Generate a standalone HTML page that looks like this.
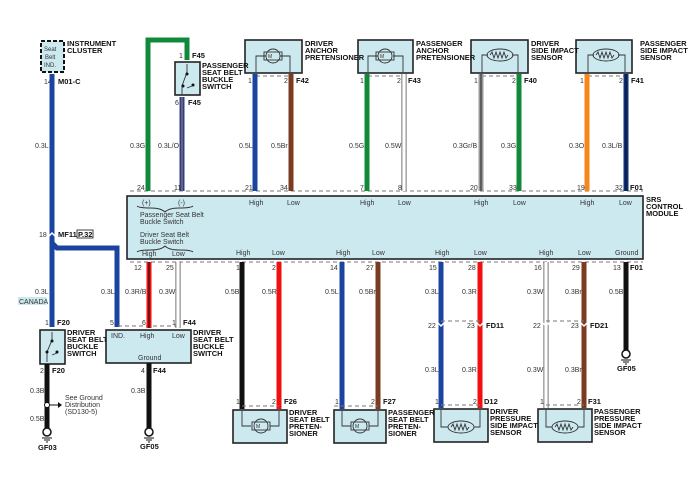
<!DOCTYPE html>
<html><head><meta charset="utf-8"><style>
html,body{margin:0;padding:0;background:#fff}
svg{display:block}
text{font-family:"Liberation Sans",sans-serif;font-size:7px;fill:#333}
.b{font-weight:bold;fill:#111;font-size:7.5px}
.box{fill:#cde9f0;stroke:#222;stroke-width:1.6}
.d{stroke:#777;stroke-width:1;stroke-dasharray:4 3;fill:none}
.ic{fill:none;stroke:#333;stroke-width:0.9}
</style></head><body>
<svg width="700" height="490" viewBox="0 0 700 490" xmlns="http://www.w3.org/2000/svg">
<!-- dashed connector lines -->
<line class="d" x1="130" y1="191" x2="643" y2="191"/>
<line class="d" x1="130" y1="262" x2="643" y2="262"/>
<!-- SRS module -->
<rect class="box" x="127" y="196" width="516" height="63"/>
<!-- top components -->
<rect class="box" x="245" y="40" width="57" height="33"/>
<rect class="box" x="358" y="40" width="55" height="33"/>
<rect class="box" x="471" y="40" width="57" height="33"/>
<rect class="box" x="576" y="40" width="56" height="33"/>
<line class="d" x1="256" y1="76" x2="290" y2="76"/>
<line class="d" x1="368" y1="76" x2="403" y2="76"/>
<line class="d" x1="482" y1="76" x2="518" y2="76"/>
<line class="d" x1="588" y1="76" x2="625" y2="76"/>
<!-- motors top -->
<g class="ic">
<path d="M256,72 V56 H266 M290,72 V56 H280"/><ellipse cx="273" cy="56" rx="7" ry="7"/><rect x="264" y="52" width="18" height="8"/>
<path d="M368,72 V56 H378 M403,72 V56 H393"/><ellipse cx="385" cy="56" rx="7" ry="7"/><rect x="376" y="52" width="18" height="8"/>
<path d="M482,72 V55 H488 M518,72 V55 H512"/><ellipse cx="500" cy="55" rx="13" ry="6"/><path d="M490,55 l2,-3 2,6 2,-6 2,6 2,-6 2,6 2,-6 2,6 2,-3"/>
<path d="M588,72 V55 H594 M625,72 V55 H618"/><ellipse cx="606" cy="55" rx="13" ry="6"/><path d="M596,55 l2,-3 2,6 2,-6 2,6 2,-6 2,6 2,-6 2,6 2,-3"/>
</g>
<text x="268" y="58" style="font-size:5px">M</text><text x="380" y="58" style="font-size:5px">M</text>
<!-- instrument cluster -->
<rect x="41" y="41" width="23" height="31" fill="#cde9f0" stroke="#111" stroke-width="2" stroke-dasharray="4 2"/>
<text x="44" y="51" style="font-size:6px">Seat</text><text x="45" y="59" style="font-size:6px">Belt</text><text x="44" y="67" style="font-size:6px">IND.</text>
<text class="b" x="67" y="46">INSTRUMENT</text><text class="b" x="67" y="53">CLUSTER</text>
<!-- passenger buckle switch -->
<rect class="box" x="175" y="62" width="25" height="33"/>
<path class="ic" d="M187,64 V72 L182,86 V94 M187,88 l5,-2" stroke-width="1"/>
<circle cx="187" cy="74" r="1.5" fill="#111"/><circle cx="183" cy="86" r="1.5" fill="#111"/><circle cx="193" cy="85" r="1.5" fill="#111"/>
<text class="b" x="202" y="68">PASSENGER</text><text class="b" x="202" y="75">SEAT BELT</text><text class="b" x="202" y="82">BUCKLE</text><text class="b" x="202" y="89">SWITCH</text>
<!-- top wires -->
<path d="M148,191 V40 H187 V60" fill="none" stroke="#108a3a" stroke-width="5"/>
<line x1="182" y1="97" x2="182" y2="191" stroke="#1a44a0" stroke-width="5"/><line x1="182" y1="97" x2="182" y2="191" stroke="#c8692a" stroke-width="1.2"/>
<line x1="255" y1="74" x2="255" y2="191" stroke="#1a44a0" stroke-width="5"/>
<line x1="291" y1="74" x2="291" y2="191" stroke="#7a3b20" stroke-width="5"/>
<line x1="367" y1="74" x2="367" y2="191" stroke="#108a3a" stroke-width="5"/>
<line x1="404" y1="74" x2="404" y2="191" stroke="#555" stroke-width="5"/><line x1="404" y1="74" x2="404" y2="191" stroke="#fff" stroke-width="3.4"/>
<line x1="481" y1="74" x2="481" y2="191" stroke="#999" stroke-width="5"/><line x1="481" y1="74" x2="481" y2="191" stroke="#222" stroke-width="1"/>
<line x1="519" y1="74" x2="519" y2="191" stroke="#108a3a" stroke-width="5"/>
<line x1="587" y1="74" x2="587" y2="191" stroke="#f7861b" stroke-width="5"/>
<line x1="626" y1="74" x2="626" y2="191" stroke="#0c2f80" stroke-width="5"/><line x1="626" y1="74" x2="626" y2="191" stroke="#111" stroke-width="1"/>
<!-- top labels -->
<text x="44" y="84">14</text><text class="b" x="58" y="84">M01-C</text>
<text x="179" y="58">1</text><text class="b" x="192" y="58">F45</text>
<text x="175" y="105">6</text><text class="b" x="188" y="105">F45</text>
<text x="248" y="83">1</text><text x="284" y="83">2</text><text class="b" x="296" y="83">F42</text>
<text x="360" y="83">1</text><text x="397" y="83">2</text><text class="b" x="408" y="83">F43</text>
<text x="474" y="83">1</text><text x="512" y="83">2</text><text class="b" x="524" y="83">F40</text>
<text x="580" y="83">1</text><text x="619" y="83">2</text><text class="b" x="631" y="83">F41</text>
<text class="b" x="305" y="46">DRIVER</text><text class="b" x="305" y="53">ANCHOR</text><text class="b" x="305" y="60">PRETENSIONER</text>
<text class="b" x="416" y="46">PASSENGER</text><text class="b" x="416" y="53">ANCHOR</text><text class="b" x="416" y="60">PRETENSIONER</text>
<text class="b" x="531" y="46">DRIVER</text><text class="b" x="531" y="53">SIDE IMPACT</text><text class="b" x="531" y="60">SENSOR</text>
<text class="b" x="640" y="46">PASSENGER</text><text class="b" x="640" y="53">SIDE IMPACT</text><text class="b" x="640" y="60">SENSOR</text>
<text x="35" y="148">0.3L</text><text x="130" y="148">0.3G</text><text x="158" y="148">0.3L/O</text>
<text x="239" y="148">0.5L</text><text x="271" y="148">0.5Br</text>
<text x="349" y="148">0.5G</text><text x="385" y="148">0.5W</text>
<text x="453" y="148">0.3Gr/B</text><text x="501" y="148">0.3G</text>
<text x="569" y="148">0.3O</text><text x="602" y="148">0.3L/B</text>
<text x="137" y="190">24</text><text x="174" y="190">11</text><text x="245" y="190">21</text><text x="280" y="190">34</text>
<text x="360" y="190">7</text><text x="398" y="190">8</text><text x="470" y="190">20</text><text x="509" y="190">33</text>
<text x="577" y="190">19</text><text x="615" y="190">32</text><text class="b" x="630" y="190">F01</text>
<!-- module text -->
<text x="142" y="205">(+)</text><text x="178" y="205">(-)</text>
<path class="ic" d="M137,206 q2,2 14,2 q10,0 14,4 q4,-4 14,-4 q12,0 14,-2"/>
<text x="140" y="217">Passenger Seat Belt</text><text x="140" y="224">Buckle Switch</text>
<text x="140" y="237">Driver Seat Belt</text><text x="140" y="244">Buckle Switch</text>
<path class="ic" d="M137,252 q2,-2 14,-2 q10,0 14,-4 q4,4 14,4 q12,0 14,2"/>
<text x="142" y="256">High</text><text x="172" y="256">Low</text>
<text x="249" y="205">High</text><text x="287" y="205">Low</text><text x="360" y="205">High</text><text x="398" y="205">Low</text>
<text x="474" y="205">High</text><text x="513" y="205">Low</text><text x="580" y="205">High</text><text x="619" y="205">Low</text>
<text x="236" y="255">High</text><text x="272" y="255">Low</text><text x="336" y="255">High</text><text x="372" y="255">Low</text>
<text x="435" y="255">High</text><text x="474" y="255">Low</text><text x="539" y="255">High</text><text x="578" y="255">Low</text><text x="615" y="255">Ground</text>
<text class="b" x="646" y="202">SRS</text><text class="b" x="646" y="209">CONTROL</text><text class="b" x="646" y="216">MODULE</text>
<!-- left blue -->
<path d="M52,74 V327" stroke="#1a44a0" stroke-width="5" fill="none"/>
<path d="M52,243 L57,248 H117 V327" stroke="#1a44a0" stroke-width="5" fill="none"/>
<path d="M47,238 l5,-5 5,5" stroke="#fff" stroke-width="1.5" fill="none"/>
<text x="39" y="237">18</text><text class="b" x="58" y="237">MF11</text>
<rect x="77" y="230" width="16" height="8" fill="#fff" stroke="#111" stroke-width="0.8"/><text class="b" x="78" y="237">P.32</text>
<text x="35" y="294">0.3L</text>
<rect x="18" y="297" width="29" height="8" fill="#cde9f0"/><text x="19" y="304">CANADA</text>
<text x="101" y="294">0.3L</text><text x="125" y="294">0.3R/B</text><text x="159" y="294">0.3W</text>
<!-- left switch -->
<rect class="box" x="40" y="330" width="25" height="34"/>
<path class="ic" d="M52,332 V340 L47,352 V362 M52,355 l5,-2"/>
<circle cx="52" cy="341" r="1.5" fill="#111"/><circle cx="47" cy="352" r="1.5" fill="#111"/><circle cx="57" cy="352" r="1.5" fill="#111"/>
<text x="45" y="325">1</text><text class="b" x="57" y="325">F20</text>
<text x="40" y="373">2</text><text class="b" x="52" y="373">F20</text>
<text class="b" x="67" y="335">DRIVER</text><text class="b" x="67" y="342">SEAT BELT</text><text class="b" x="67" y="349">BUCKLE</text><text class="b" x="67" y="356">SWITCH</text>
<line x1="47" y1="364" x2="47" y2="428" stroke="#111" stroke-width="5"/>
<circle cx="47" cy="405" r="2.5" fill="#fff" stroke="#111"/>
<path d="M50,405 H60" stroke="#111" stroke-width="1"/><path d="M58,402 l4,3 -4,3z" fill="#111"/>
<text x="65" y="400">See Ground</text><text x="65" y="407">Distribution</text><text x="65" y="414">(SD130-5)</text>
<text x="30" y="393">0.3B</text><text x="30" y="421">0.5B</text>
<circle cx="47" cy="432" r="4" fill="#fff" stroke="#111" stroke-width="1.5"/><path d="M42,438 h10 M44,440 h6 M46,442 h2" stroke="#111"/>
<text class="b" x="38" y="450">GF03</text>
<!-- right buckle switch -->
<line class="d" x1="118" y1="326" x2="178" y2="326"/>
<line x1="149" y1="262" x2="149" y2="328" stroke="#f01010" stroke-width="5"/><line x1="149" y1="262" x2="149" y2="328" stroke="#111" stroke-width="1"/>
<line x1="178" y1="262" x2="178" y2="328" stroke="#555" stroke-width="5"/><line x1="178" y1="262" x2="178" y2="328" stroke="#fff" stroke-width="3.4"/>
<rect class="box" x="106" y="330" width="85" height="33"/>
<text x="111" y="338">IND.</text><text x="140" y="338">High</text><text x="172" y="338">Low</text><text x="138" y="360">Ground</text>
<text x="110" y="325">5</text><text x="142" y="325">6</text><text x="172" y="325">1</text><text class="b" x="183" y="325">F44</text>
<text x="134" y="270">12</text><text x="166" y="270">25</text>
<text class="b" x="193" y="335">DRIVER</text><text class="b" x="193" y="342">SEAT BELT</text><text class="b" x="193" y="349">BUCKLE</text><text class="b" x="193" y="356">SWITCH</text>
<line x1="149" y1="363" x2="149" y2="428" stroke="#111" stroke-width="5"/>
<text x="141" y="373">4</text><text class="b" x="153" y="373">F44</text><text x="131" y="393">0.3B</text>
<circle cx="149" cy="432" r="4" fill="#fff" stroke="#111" stroke-width="1.5"/><path d="M144,438 h10 M146,440 h6 M148,442 h2" stroke="#111"/>
<text class="b" x="140" y="449">GF05</text>
<!-- bottom wires -->
<line x1="242" y1="262" x2="242" y2="409" stroke="#111" stroke-width="5"/>
<line x1="279" y1="262" x2="279" y2="409" stroke="#f01010" stroke-width="5"/>
<line x1="342" y1="262" x2="342" y2="409" stroke="#1a44a0" stroke-width="5"/>
<line x1="378" y1="262" x2="378" y2="409" stroke="#7a3b20" stroke-width="5"/>
<line x1="441" y1="262" x2="441" y2="408" stroke="#1a44a0" stroke-width="5"/>
<line x1="480" y1="262" x2="480" y2="408" stroke="#f01010" stroke-width="5"/>
<line x1="546" y1="262" x2="546" y2="408" stroke="#555" stroke-width="5"/><line x1="546" y1="262" x2="546" y2="408" stroke="#fff" stroke-width="3.4"/>
<line x1="584" y1="262" x2="584" y2="408" stroke="#7a3b20" stroke-width="5"/>
<line x1="626" y1="262" x2="626" y2="350" stroke="#111" stroke-width="5"/>
<circle cx="626" cy="354" r="4" fill="#fff" stroke="#111" stroke-width="1.5"/><path d="M621,360 h10 M623,362 h6 M625,364 h2" stroke="#111"/>
<text class="b" x="617" y="371">GF05</text>
<line class="d" x1="441" y1="321" x2="480" y2="321"/><line class="d" x1="546" y1="321" x2="584" y2="321"/>
<path d="M437,322 l4,4 4,-4 M476,322 l4,4 4,-4 M542,322 l4,4 4,-4 M580,322 l4,4 4,-4" stroke="#fff" stroke-width="1.5" fill="none"/>
<text x="428" y="328">22</text><text x="467" y="328">23</text><text class="b" x="486" y="328">FD11</text>
<text x="533" y="328">22</text><text x="571" y="328">23</text><text class="b" x="590" y="328">FD21</text>
<!-- bottom labels -->
<text x="236" y="270">1</text><text x="272" y="270">2</text><text x="330" y="270">14</text><text x="366" y="270">27</text>
<text x="429" y="270">15</text><text x="468" y="270">28</text><text x="534" y="270">16</text><text x="572" y="270">29</text><text x="613" y="270">13</text><text class="b" x="630" y="270">F01</text>
<text x="225" y="294">0.5B</text><text x="262" y="294">0.5R</text><text x="325" y="294">0.5L</text><text x="359" y="294">0.5Br</text>
<text x="425" y="294">0.3L</text><text x="462" y="294">0.3R</text><text x="527" y="294">0.3W</text><text x="565" y="294">0.3Br</text><text x="609" y="294">0.5B</text>
<text x="425" y="372">0.3L</text><text x="462" y="372">0.3R</text><text x="527" y="372">0.3W</text><text x="565" y="372">0.3Br</text>
<!-- bottom components -->
<line class="d" x1="242" y1="406" x2="279" y2="406"/><line class="d" x1="334" y1="406" x2="378" y2="406"/>
<line class="d" x1="441" y1="405" x2="480" y2="405"/><line class="d" x1="546" y1="405" x2="584" y2="405"/>
<rect class="box" x="233" y="410" width="54" height="33"/>
<rect class="box" x="334" y="410" width="52" height="33"/>
<rect class="box" x="434" y="409" width="54" height="33"/>
<rect class="box" x="538" y="409" width="54" height="33"/>
<g class="ic">
<path d="M242,411 V426 H251 M279,411 V426 H270"/><ellipse cx="261" cy="426" rx="7" ry="7"/><rect x="252" y="422" width="18" height="8"/>
<path d="M342,411 V426 H351 M378,411 V426 H369"/><ellipse cx="360" cy="426" rx="7" ry="7"/><rect x="351" y="422" width="18" height="8"/>
<path d="M441,410 V427 H448 M480,410 V427 H474"/><ellipse cx="461" cy="427" rx="13" ry="6"/><path d="M451,427 l2,-3 2,6 2,-6 2,6 2,-6 2,6 2,-6 2,6 2,-3"/>
<path d="M546,410 V427 H552 M584,410 V427 H578"/><ellipse cx="565" cy="427" rx="13" ry="6"/><path d="M555,427 l2,-3 2,6 2,-6 2,6 2,-6 2,6 2,-6 2,6 2,-3"/>
</g>
<text x="256" y="428" style="font-size:5px">M</text><text x="355" y="428" style="font-size:5px">M</text>
<text x="236" y="404">1</text><text x="272" y="404">2</text><text class="b" x="284" y="404">F26</text>
<text x="335" y="404">1</text><text x="371" y="404">2</text><text class="b" x="383" y="404">F27</text>
<text x="435" y="404">1</text><text x="473" y="404">2</text><text class="b" x="484" y="404">D12</text>
<text x="540" y="404">1</text><text x="577" y="404">2</text><text class="b" x="588" y="404">F31</text>
<text class="b" x="289" y="415">DRIVER</text><text class="b" x="289" y="422">SEAT BELT</text><text class="b" x="289" y="429">PRETEN-</text><text class="b" x="289" y="436">SIONER</text>
<text class="b" x="388" y="415">PASSENGER</text><text class="b" x="388" y="422">SEAT BELT</text><text class="b" x="388" y="429">PRETEN-</text><text class="b" x="388" y="436">SIONER</text>
<text class="b" x="490" y="414">DRIVER</text><text class="b" x="490" y="421">PRESSURE</text><text class="b" x="490" y="428">SIDE IMPACT</text><text class="b" x="490" y="435">SENSOR</text>
<text class="b" x="594" y="414">PASSENGER</text><text class="b" x="594" y="421">PRESSURE</text><text class="b" x="594" y="428">SIDE IMPACT</text><text class="b" x="594" y="435">SENSOR</text>
</svg>
</body></html>
